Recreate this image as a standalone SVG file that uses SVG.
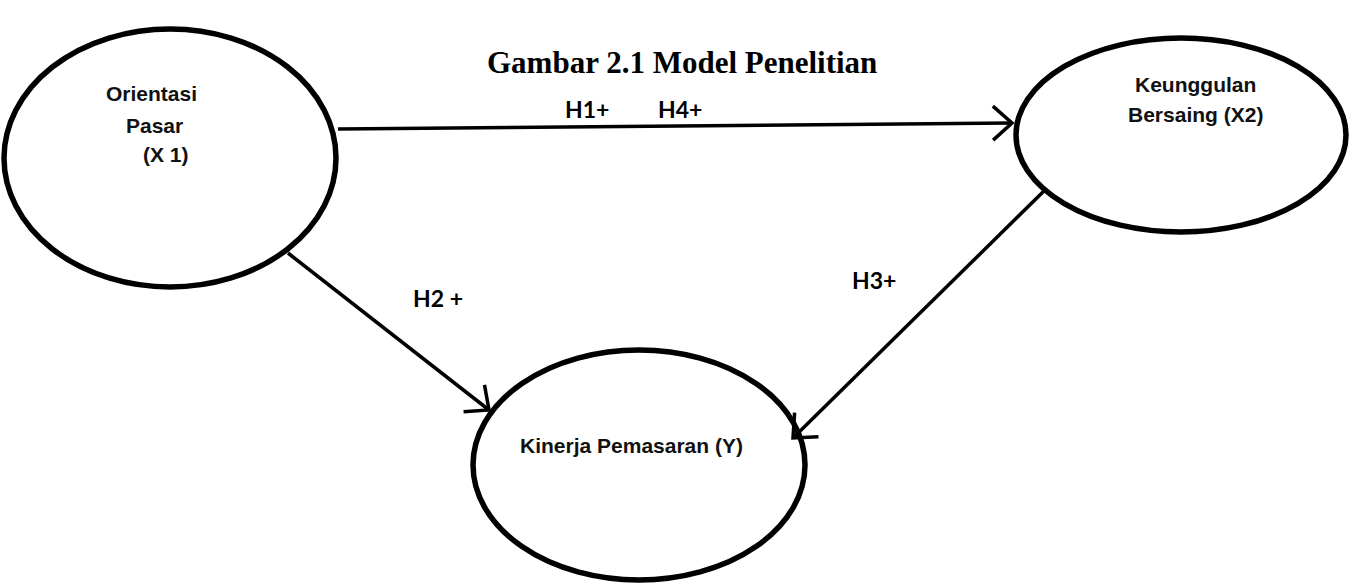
<svg xmlns="http://www.w3.org/2000/svg" width="1350" height="583" viewBox="0 0 1350 583">
<style>
.node{fill:#fff;stroke:#000;stroke-width:5.5}
.lbl{font-family:"Liberation Sans",Arial,sans-serif;font-weight:bold;font-size:21px;fill:#111}
.h{font-family:Lato,"Liberation Sans",sans-serif;font-weight:bold;font-size:23px;fill:#000}
.title{font-family:"Liberation Serif","Times New Roman",serif;font-weight:bold;font-size:31px;fill:#000}
.edge{fill:none;stroke:#000;stroke-width:3.5}
</style>
<defs>
<marker id="arr" markerUnits="userSpaceOnUse" markerWidth="40" markerHeight="40" viewBox="-25 -20 30 40" refX="0" refY="0" orient="auto">
<path d="M-19,-17 L0,0 L-19,17" fill="none" stroke="#000" stroke-width="3.5"/>
</marker>
</defs>
<rect width="1350" height="583" fill="#fff"/>
<text class="title" x="487" y="73">Gambar 2.1 Model Penelitian</text>
<g id="node-x1">
<ellipse class="node" cx="170" cy="158" rx="166" ry="129"/>
<text class="lbl" x="106" y="101">Orientasi</text>
<text class="lbl" x="126" y="133">Pasar</text>
<text class="lbl" x="143" y="162">(X 1)</text>
</g>
<g id="node-x2">
<ellipse class="node" cx="1181" cy="135" rx="165" ry="97"/>
<text class="lbl" x="1135" y="92">Keunggulan</text>
<text class="lbl" x="1128" y="122">Bersaing (X2)</text>
</g>
<g id="node-y">
<ellipse class="node" cx="639" cy="465" rx="166" ry="115"/>
<text class="lbl" x="520" y="453">Kinerja Pemasaran (Y)</text>
</g>
<g id="connectors">
<path class="edge" d="M338,129 L1012,123" marker-end="url(#arr)"/>
<path class="edge" d="M288,253 L489,410" stroke-width="3" marker-end="url(#arr)"/>
<path class="edge" d="M1045,190 L793,438" stroke-width="3" marker-end="url(#arr)"/>
<text class="h" x="565" y="118">H1+</text>
<text class="h" x="658" y="118">H4+</text>
<text class="h" x="413" y="307">H2 +</text>
<text class="h" x="852" y="289">H3+</text>
</g>
</svg>
